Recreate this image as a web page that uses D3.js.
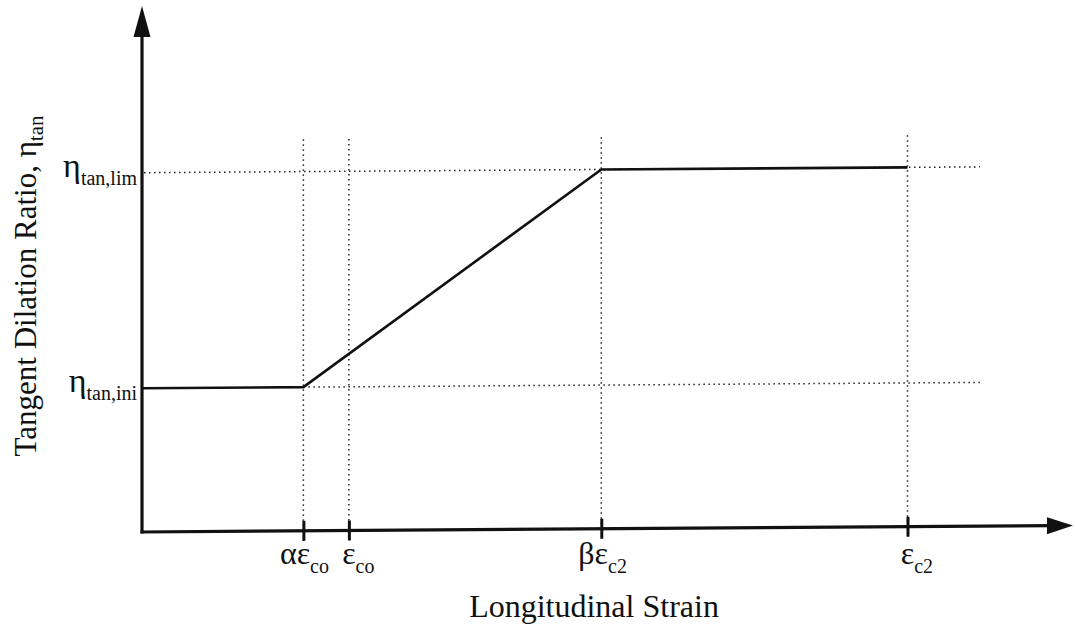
<!DOCTYPE html>
<html>
<head>
<meta charset="utf-8">
<script src="https://cdn.jsdelivr.net/npm/d3@7"></script>
<style>
  html, body { margin: 0; padding: 0; background: #fff; }
  svg { display: block; }
  text { font-family: "Liberation Serif", "Times New Roman", serif; fill: #111; }
</style>
</head>
<body>
<svg id="chart" width="1075" height="628"></svg>
<script>
// Characteristic strains along the longitudinal axis (normalised to eps_co = 1)
const strainValues = [0.78, 1.0, 2.22, 3.7];
const strainPrefix = ["α", "", "β", ""];
const strainSymbol = ["ε", "ε", "ε", "ε"];
const strainSub    = ["co", "co", "c2", "c2"];

// Tangent dilation ratio levels
const etaValues = [0.2, 0.5];
const etaMain   = ["η", "η"];
const etaSub    = ["tan,ini", "tan,lim"];

// Piecewise-linear dilation model
const curveStrain = [0, 0.78, 2.22, 3.7];
const curveEta    = [0.2, 0.2, 0.5, 0.5];

const xTitle = "Longitudinal Strain";
const yTitle = "Tangent Dilation Ratio, η";
const yTitleSub = "tan";

const svg = d3.select("#chart");

const x = d3.scaleLinear().domain([0, 4.5]).range([142, 1073]);
const y = d3.scaleLinear().domain([0, 0.732]).range([532, 6]);

const guideEndStrain = 4.05;   // where the horizontal guides stop
const guideTopEta = 0.545;     // where the vertical guides stop

// plot body has a slight shear, as on the original drawing
const plot = svg.append("g")
  .attr("transform", `translate(${x(0)},0) skewY(-0.4) translate(${-x(0)},0)`);

const dotted = { stroke: "#222", "stroke-width": 1.5, "stroke-dasharray": "1.5,3.5" };
function applyStyle(sel, st) { Object.entries(st).forEach(([k, v]) => sel.attr(k, v)); return sel; }

// horizontal guides
etaValues.forEach((v, i) => {
  const startX = i === 0 ? x(curveStrain[1]) : x(0) + 2;
  applyStyle(plot.append("line")
    .attr("x1", startX).attr("x2", x(guideEndStrain))
    .attr("y1", y(v)).attr("y2", y(v)), dotted);
});

// vertical guides
strainValues.forEach(v => {
  applyStyle(plot.append("line")
    .attr("x1", x(v)).attr("x2", x(v))
    .attr("y1", y(0)).attr("y2", y(guideTopEta)), dotted);
});

// model curve
const line = d3.line().x(d => x(d[0])).y(d => y(d[1]));
plot.append("path")
  .datum(d3.zip(curveStrain, curveEta))
  .attr("d", line)
  .attr("fill", "none")
  .attr("stroke", "#111")
  .attr("stroke-width", 2.6)
  .attr("stroke-linejoin", "round");

// x axis: tick marks from d3.axisBottom, line drawn separately with an arrow
const xAxis = d3.axisBottom(x).tickValues(strainValues).tickSize(10).tickFormat("");
const gx = plot.append("g").attr("transform", `translate(0,${y(0) - 10})`).call(xAxis);
gx.select(".domain").remove();
gx.selectAll(".tick line").attr("y1", 0).attr("y2", 20).attr("stroke", "#111").attr("stroke-width", 3);

plot.append("line")
  .attr("x1", x(0) - 1.5).attr("x2", x(4.5) - 20)
  .attr("y1", y(0)).attr("y2", y(0))
  .attr("stroke", "#111").attr("stroke-width", 3.2);
plot.append("path")
  .attr("d", `M${x(4.5)},${y(0)} L${x(4.5) - 26},${y(0) - 8.5} L${x(4.5) - 26},${y(0) + 8.5} Z`)
  .attr("fill", "#111");

// y axis with arrow
plot.append("line")
  .attr("x1", x(0)).attr("x2", x(0))
  .attr("y1", y(0) + 1.5).attr("y2", y(0.732) + 26)
  .attr("stroke", "#111").attr("stroke-width", 3.2);
plot.append("path")
  .attr("d", `M${x(0)},${y(0.732)} L${x(0) - 8.5},${y(0.732) + 31} L${x(0) + 8.5},${y(0.732) + 31} Z`)
  .attr("fill", "#111");

// tick labels: the strain symbol sits centred on its tick
const mainSize = 32, subSize = 20;
const measurer = svg.append("text").style("font-size", mainSize + "px");
function textWidth(s) { measurer.text(s); return s ? measurer.node().getComputedTextLength() : 0; }

const tickData = strainValues.map((v, i) => ({
  v, prefix: strainPrefix[i], symbol: strainSymbol[i], sub: strainSub[i],
  offset: textWidth(strainPrefix[i]) + textWidth(strainSymbol[i]) / 2
}));
measurer.remove();

const tickLabel = svg.append("g").selectAll("text")
  .data(tickData)
  .join("text")
  .attr("x", d => x(d.v) - d.offset)
  .attr("y", y(0) + 32)
  .attr("text-anchor", "start")
  .style("font-size", mainSize + "px");
tickLabel.append("tspan").text(d => d.prefix + d.symbol);
tickLabel.append("tspan").attr("dy", 9).style("font-size", subSize + "px").text(d => d.sub);

// eta level labels
const etaLabel = svg.append("g").selectAll("text")
  .data(etaValues.map((v, i) => ({ v, main: etaMain[i], sub: etaSub[i] })))
  .join("text")
  .attr("x", x(0) - 5)
  .attr("y", d => y(d.v) + 4)
  .attr("text-anchor", "end")
  .style("font-size", "34px");
etaLabel.append("tspan").text(d => d.main);
etaLabel.append("tspan").attr("dy", 8).style("font-size", "20px").text(d => d.sub);

// axis titles
svg.append("text")
  .attr("x", 594).attr("y", 617)
  .attr("text-anchor", "middle")
  .style("font-size", "32px")
  .text(xTitle);

const yt = svg.append("text")
  .attr("transform", "translate(36,286) rotate(-90)")
  .attr("text-anchor", "middle")
  .style("font-size", "31px");
yt.append("tspan").text(yTitle);
yt.append("tspan").attr("dy", 7).style("font-size", "21px").text(yTitleSub);
</script>
</body>
</html>
